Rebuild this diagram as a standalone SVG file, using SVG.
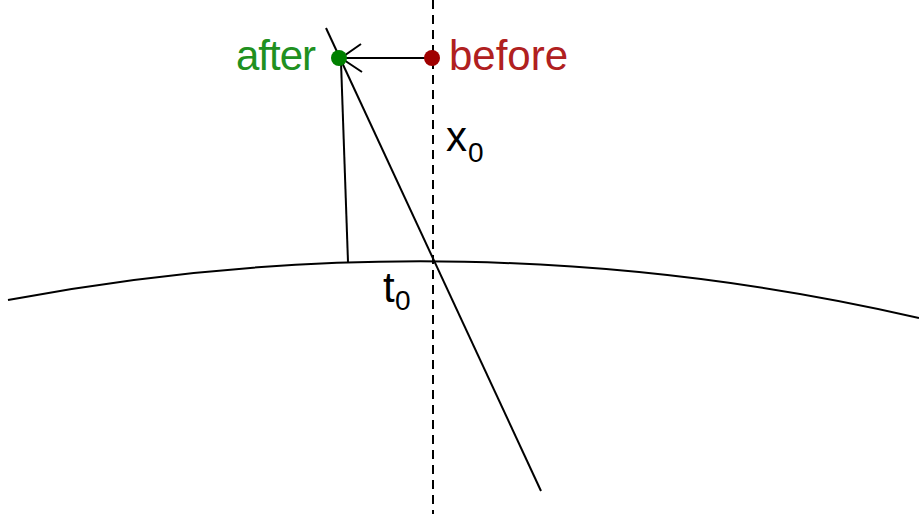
<svg xmlns="http://www.w3.org/2000/svg" width="919" height="514" viewBox="0 0 919 514">
<style>
.ln{stroke:#000;stroke-width:2;fill:none}
.dash{stroke:#000;stroke-width:2;stroke-dasharray:9,6;fill:none}
.t{font-family:"Liberation Sans",Arial,sans-serif;font-size:42px}
.sub{font-family:"Liberation Sans",Arial,sans-serif;font-size:28px}
</style>
<rect width="919" height="514" fill="#fff"/>
<g id="connectors">
<path class="dash" d="M433 0 V514"/>
<path class="ln" d="M8 300 A2222 2222 0 0 1 919 318"/>
<path class="ln" d="M326 28 L541 491"/>
<path class="ln" d="M341 62 L348 262"/>
<path class="ln" d="M432 58 H341"/>
<path class="ln" d="M361 44 L341 58 L362 72"/>
</g>
<g id="after">
<circle cx="339" cy="58" r="8" fill="#008000"/>
<text class="t" x="236" y="70" fill="#209020" textLength="80">after</text>
</g>
<g id="before">
<circle cx="432" cy="58" r="8" fill="#a00000"/>
<text class="t" x="449" y="70" fill="#b02020" textLength="119">before</text>
</g>
<g id="x0">
<text class="t" x="446" y="151" fill="#000">x</text>
<text class="sub" x="468" y="162" fill="#000">0</text>
</g>
<g id="t0">
<text class="t" x="383" y="302" fill="#000">t</text>
<text class="sub" x="395" y="310" fill="#000">0</text>
</g>
</svg>
